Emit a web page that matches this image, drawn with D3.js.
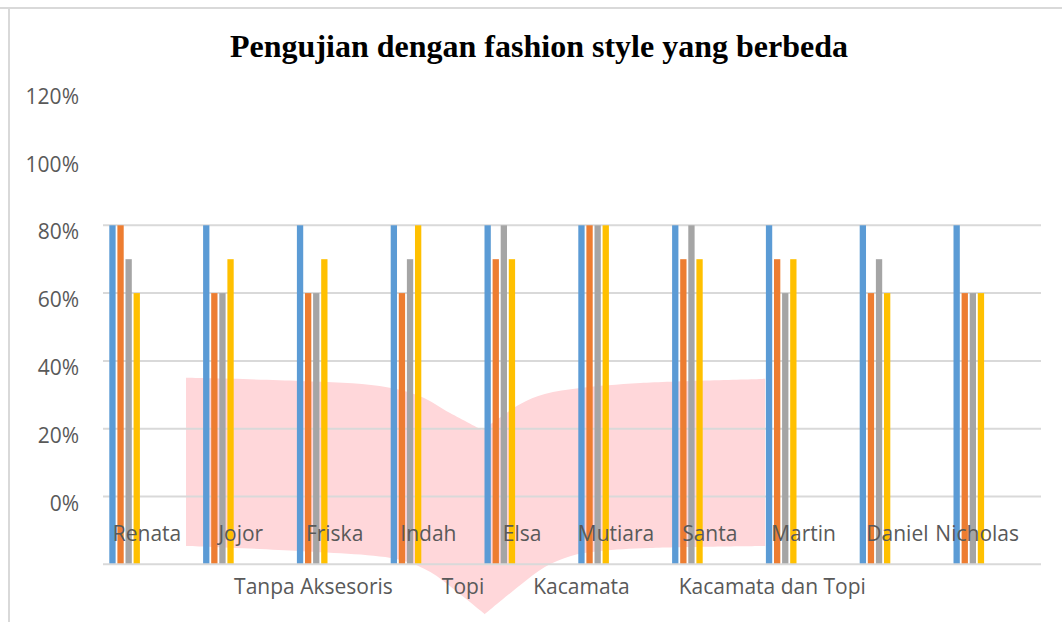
<!DOCTYPE html>
<html>
<head>
<meta charset="utf-8">
<script src="https://cdn.jsdelivr.net/npm/d3@7"></script>
<style>
  body { margin: 0; background: #fff; }
  svg { display: block; }
</style>
</head>
<body>
<svg id="chart" width="1062" height="622"></svg>
<script>
// data
const names = ['Renata', 'Jojor', 'Friska', 'Indah', 'Elsa', 'Mutiara', 'Santa', 'Martin', 'Daniel', 'Nicholas'];
const series = ['Tanpa Aksesoris', 'Topi', 'Kacamata', 'Kacamata dan Topi'];
const tanpaAksesoris = [80, 80, 80, 80, 80, 80, 80, 80, 80, 80];
const topi = [80, 60, 60, 60, 70, 80, 70, 70, 60, 60];
const kacamata = [70, 60, 60, 70, 80, 80, 80, 60, 70, 60];
const kacamataTopi = [60, 70, 70, 80, 70, 80, 70, 70, 60, 60];
const yTicks = [0, 20, 40, 60, 80, 100, 120];
const gridTicks = [0, 20, 40, 60, 80];
// pink background blob, in category-index / percent units (each edge split at its sharp point)
const blobTopLeft = [[0.885, 35.0], [2.1, 34.1], [2.95, 32.6], [3.38, 29.6], [3.7, 24.6], [4.04, 19.6]];
const blobTopRight = [[4.04, 19.6], [4.23, 23.2], [4.45, 27.3], [4.71, 30.2], [5.09, 32.0], [5.73, 33.5], [7.06, 34.7]];
const blobBottomRight = [[7.06, -14.6], [5.83, -15.2], [5.3, -16.1], [4.98, -17.6], [4.71, -20.8], [4.45, -26.1], [4.07, -34.7]];
const blobBottomLeft = [[4.07, -34.7], [3.75, -27.6], [3.49, -22.3], [3.17, -18.7], [2.1, -16.1], [0.885, -14.6]];

const values = [tanpaAksesoris, topi, kacamata, kacamataTopi];
const colors = ['#5b9bd5', '#ed7d31', '#a5a5a5', '#ffc000'];
const rows = names.map((n, i) => ({ name: n, vals: series.map((s, j) => ({ s, v: values[j][i] })) }));

const svg = d3.select('#chart');
const font = '"Open Sans", sans-serif';

// frame
svg.append('line').attr('x1', 0).attr('x2', 1062).attr('y1', 8).attr('y2', 8)
  .attr('stroke', '#d9d9d9').attr('stroke-width', 2);
svg.append('line').attr('x1', 9).attr('x2', 9).attr('y1', 8).attr('y2', 622)
  .attr('stroke', '#d9d9d9').attr('stroke-width', 2);

// scales
const x0 = d3.scaleBand().domain(names).range([103, 1041]).padding(0);
const x1 = d3.scaleBand().domain(series).range([6.3, 36.9]).paddingInner(0.22).paddingOuter(0);
const xIdx = d3.scaleLinear().domain([0, names.length]).range([103, 1041]);
const y = d3.scaleLinear().domain([-20, 120]).range([564.3, 89.7]);

// title
svg.append('text')
  .attr('x', 539).attr('y', 57)
  .attr('text-anchor', 'middle')
  .style('font-family', '"Liberation Serif", "Times New Roman", serif')
  .style('font-weight', 'bold')
  .style('font-size', '32px')
  .attr('fill', '#000')
  .text('Pengujian dengan fashion style yang berbeda');

// blob: smooth edges, sharp dip and tip, straight sides
const smooth = d3.line().x(d => xIdx(d[0])).y(d => y(d[1])).curve(d3.curveCatmullRom);
const blobD = [blobTopLeft, blobTopRight, blobBottomRight, blobBottomLeft]
  .map((seg, i) => i === 0 ? smooth(seg) : smooth(seg).replace(/^M/, 'L'))
  .join('') + 'Z';
svg.append('path')
  .attr('d', blobD)
  .attr('fill', '#ffd7da');

// gridlines
svg.append('g').selectAll('line').data(gridTicks).join('line')
  .attr('x1', 103).attr('x2', 1041)
  .attr('y1', d => y(d)).attr('y2', d => y(d))
  .attr('stroke', '#d9d9d9').attr('stroke-width', 2);

// y labels
svg.append('g').selectAll('text').data(yTicks).join('text')
  .attr('x', 79).attr('y', d => y(d) + 14)
  .attr('text-anchor', 'end')
  .style('font-family', font).style('font-size', '21px')
  .attr('fill', '#595959')
  .text(d => d + '%');

// bars
const groups = svg.append('g').selectAll('g').data(rows).join('g')
  .attr('transform', d => `translate(${x0(d.name)},0)`);
groups.selectAll('rect').data(d => d.vals).join('rect')
  .attr('x', d => x1(d.s))
  .attr('width', x1.bandwidth())
  .attr('y', d => y(d.v))
  .attr('height', d => y(-20) - y(d.v))
  .attr('fill', (d, i) => colors[i]);

// bottom axis line
svg.append('line').attr('x1', 103).attr('x2', 1041)
  .attr('y1', y(-20)).attr('y2', y(-20))
  .attr('stroke', '#d9d9d9').attr('stroke-width', 2);

// category labels
svg.append('g').selectAll('text').data(names).join('text')
  .attr('y', 541)
  .attr('text-anchor', 'middle')
  .style('font-family', font).style('font-size', '21px')
  .attr('fill', '#595959')
  .text(d => d)
  .attr('x', function (d) {
    const w = this.getComputedTextLength();
    let cx = x0(d) + 44;
    if (cx + w / 2 > 1019) cx = 1019 - w / 2;
    return cx;
  });

// legend (text only)
const leg = svg.append('g');
const legTexts = leg.selectAll('text').data(series).join('text')
  .attr('y', 594)
  .style('font-family', font).style('font-size', '21px')
  .attr('fill', '#595959')
  .text(d => d);
const widths = [];
legTexts.each(function () { widths.push(this.getComputedTextLength()); });
const gap = 49;
const total = d3.sum(widths) + gap * (widths.length - 1);
let lx = 550 - total / 2;
legTexts.attr('x', (d, i) => {
  const p = lx;
  lx += widths[i] + gap;
  return p;
});
</script>
</body>
</html>
